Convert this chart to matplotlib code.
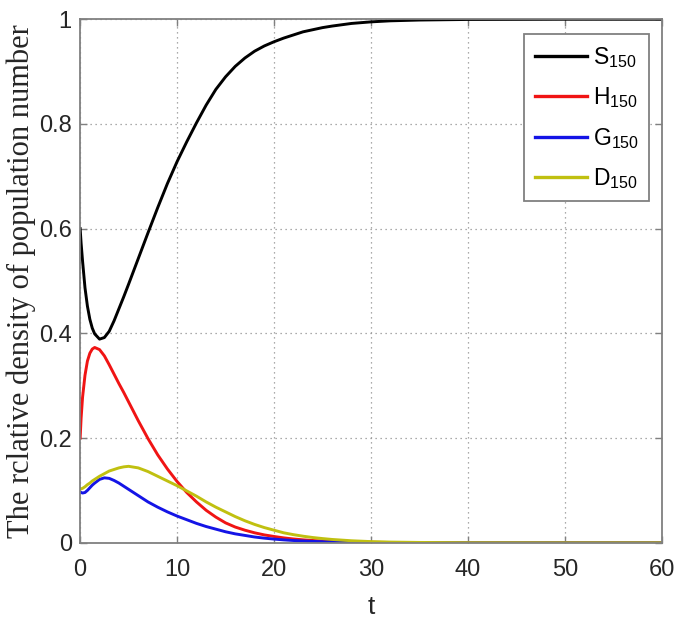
import matplotlib
matplotlib.use("Agg")
import matplotlib.pyplot as plt

plt.rcParams["font.family"] = ["Liberation Sans", "DejaVu Sans"]
plt.rcParams["mathtext.default"] = "regular"

# ---- data ----
t = [0, 0.1, 0.25, 0.5, 0.75, 1, 1.25, 1.5, 2, 2.5, 3, 3.5, 4, 4.5, 5,
     6, 7, 8, 9, 10, 11, 12, 13, 14, 15, 16, 17, 18, 19, 20,
     21, 22, 23, 24, 25, 26, 28, 30, 32, 35, 40, 50, 60]

S150 = [0.600, 0.572, 0.538, 0.487, 0.452, 0.427, 0.410, 0.399, 0.389, 0.392,
        0.404, 0.424, 0.447, 0.470, 0.494,
        0.543, 0.592, 0.640, 0.686, 0.728, 0.766, 0.802, 0.836, 0.866, 0.890,
        0.910, 0.926, 0.939, 0.949, 0.957,
        0.964, 0.970, 0.976, 0.980, 0.984, 0.987, 0.992, 0.995, 0.997, 0.9985,
        0.9996, 1.0, 1.0]

H150 = [0.200, 0.238, 0.278, 0.320, 0.347, 0.362, 0.370, 0.373, 0.369, 0.357,
        0.340, 0.322, 0.304, 0.287, 0.269,
        0.233, 0.199, 0.168, 0.141, 0.117, 0.096, 0.078, 0.062, 0.049, 0.038,
        0.030, 0.024, 0.019, 0.015, 0.012,
        0.0093, 0.0072, 0.0056, 0.0043, 0.0033, 0.0026, 0.0015, 0.0009, 0.0005,
        0.0002, 0.0, 0.0, 0.0]

G150 = [0.097, 0.096, 0.095, 0.096, 0.100, 0.105, 0.110, 0.114, 0.121, 0.124,
        0.123, 0.119, 0.114, 0.108, 0.102,
        0.090, 0.078, 0.068, 0.059, 0.051, 0.044, 0.037, 0.031, 0.026, 0.021,
        0.017, 0.014, 0.011, 0.0088, 0.007,
        0.0055, 0.0043, 0.0034, 0.0026, 0.002, 0.0016, 0.0009, 0.0005, 0.0003,
        0.0001, 0.0, 0.0, 0.0]

D150 = [0.102, 0.103, 0.104, 0.107, 0.111, 0.114, 0.118, 0.121, 0.127, 0.132,
        0.137, 0.140, 0.143, 0.145, 0.146,
        0.143, 0.136, 0.127, 0.118, 0.109, 0.099, 0.089, 0.078, 0.068, 0.059,
        0.050, 0.042, 0.035, 0.029, 0.024,
        0.019, 0.0155, 0.0125, 0.010, 0.008, 0.0063, 0.0038, 0.0022, 0.0013,
        0.0006, 0.0001, 0.0, 0.0]

xticks = [0, 10, 20, 30, 40, 50, 60]
yticks = [0, 0.2, 0.4, 0.6, 0.8, 1]
ytick_labels = ["0", "0.2", "0.4", "0.6", "0.8", "1"]

fig = plt.figure(figsize=(6.85, 6.21), dpi=100)
ax = fig.add_axes([0.117, 0.126, 0.849, 0.843])

lw = 2.1
ax.plot(t, S150, color="black", lw=lw, label="S$_{150}$")
ax.plot(t, H150, color="#f01414", lw=lw, label="H$_{150}$")
ax.plot(t, G150, color="#1414e6", lw=lw, label="G$_{150}$")
ax.plot(t, D150, color="#c0c010", lw=lw, label="D$_{150}$")

ax.set_xlim(0, 60)
ax.set_ylim(0, 1)
ax.set_xticks(xticks)
ax.set_yticks(yticks)
ax.set_yticklabels(ytick_labels)
ax.tick_params(direction="in", length=5, width=1, colors="#808080",
               labelcolor="#262626", labelsize=17, top=True, right=True)
ax.tick_params(axis="y", pad=6)
ax.tick_params(axis="x", pad=12)
ax.grid(True, linestyle=(0, (1, 3)), color="#909090", lw=0.9)
for sp in ax.spines.values():
    sp.set_color("#808080")
    sp.set_linewidth(1.3)

ax.set_xlabel("t", fontsize=19, color="#262626", labelpad=10)
ax.set_ylabel("The rclative density of population number",
              family=["Liberation Serif", "DejaVu Serif"], fontsize=22,
              color="#262626", labelpad=2)

leg = ax.legend(loc="upper right", bbox_to_anchor=(0.979, 0.971),
                borderaxespad=0, fontsize=16.5, handlelength=2.3,
                fancybox=False, framealpha=1, labelspacing=0.68,
                handletextpad=0.25, borderpad=0.45)
leg.get_frame().set_edgecolor("#808080")
leg.get_frame().set_linewidth(1.3)
for line in leg.get_lines():
    line.set_linewidth(2.4)

plt.savefig("out.png", dpi=100, facecolor="white")
